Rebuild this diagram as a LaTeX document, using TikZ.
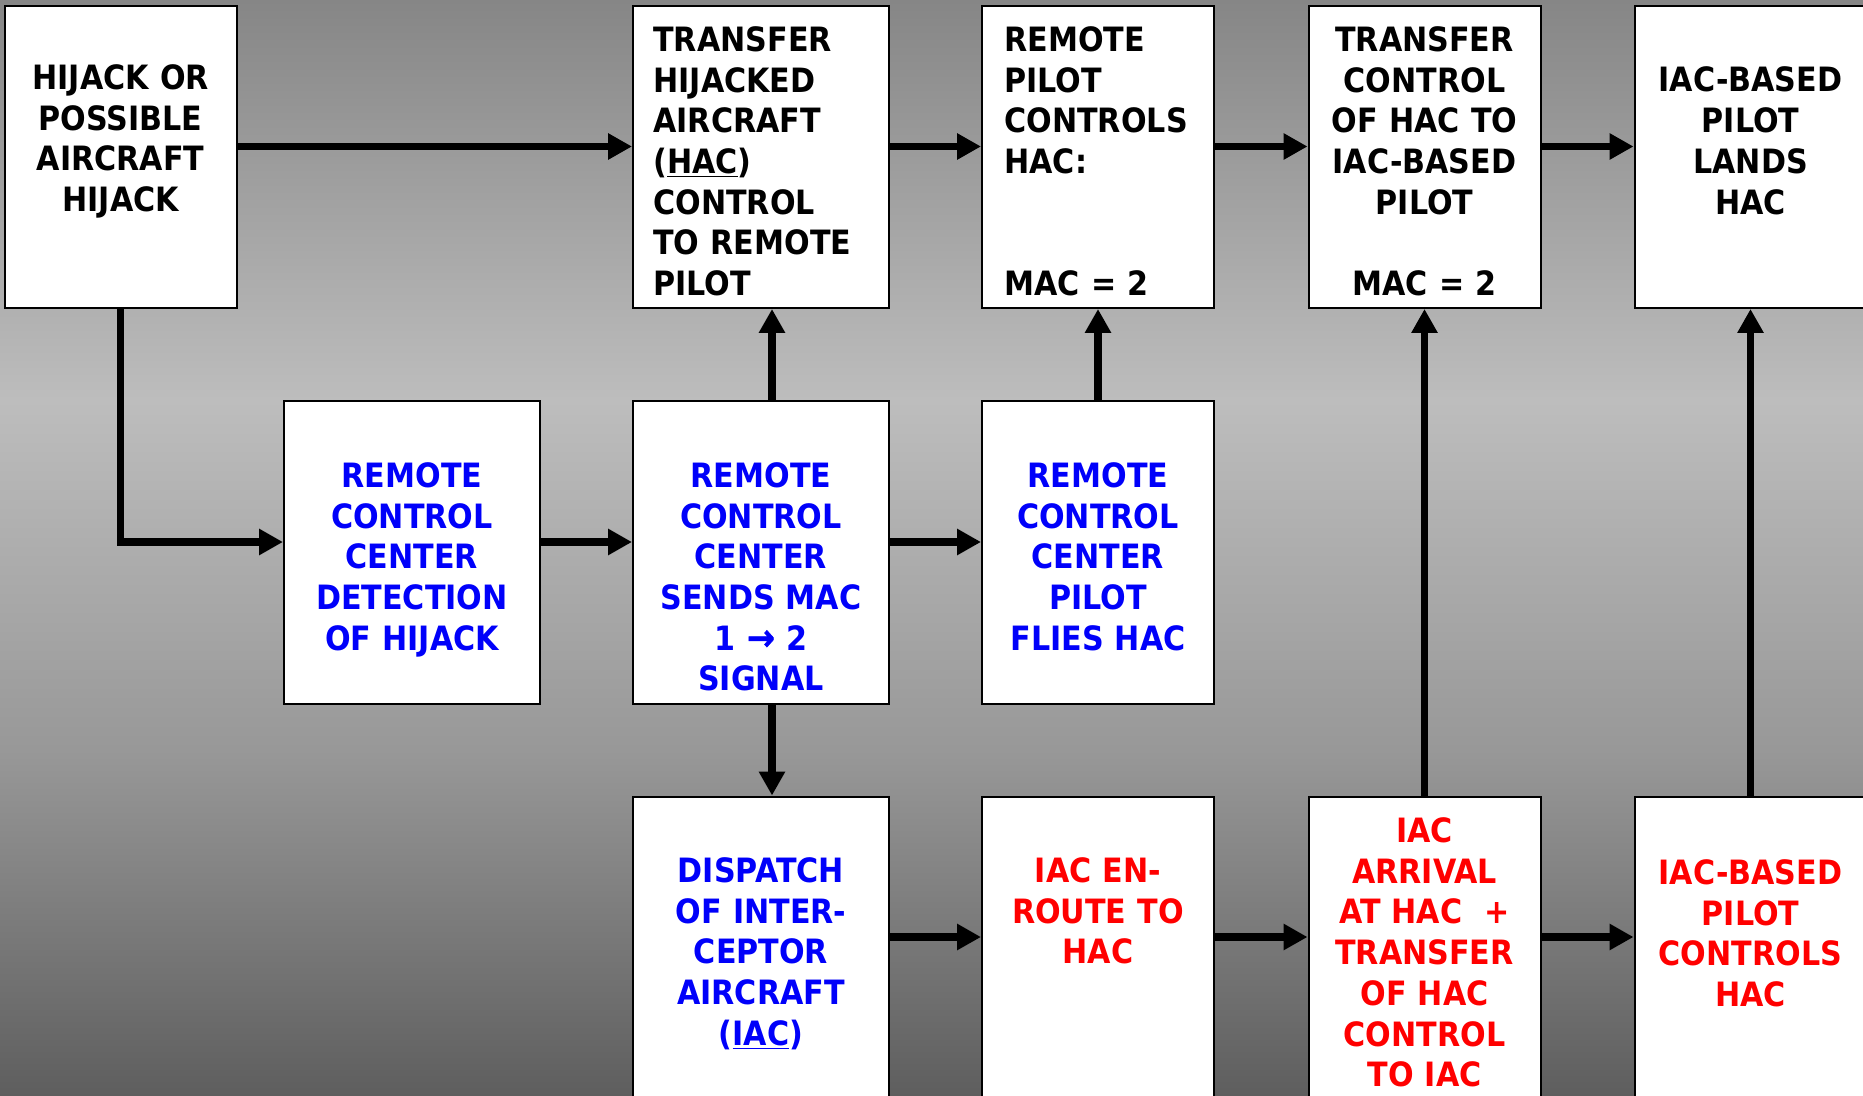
\documentclass[tikz,border=0pt]{standalone}
\usepackage{fontspec}
\setmainfont{DejaVu Sans}[FakeStretch=0.9]
\usetikzlibrary{arrows.meta}
\definecolor{bgA}{RGB}{134,134,134}
\definecolor{bgB}{RGB}{189,189,189}
\definecolor{bgC}{RGB}{152,152,152}
\definecolor{bgD}{RGB}{94,94,94}
\definecolor{tblue}{RGB}{0,0,250}
\definecolor{tred}{RGB}{255,0,0}
\pgfdeclareverticalshading{bgshade}{100bp}{color(0bp)=(bgD); color(25bp)=(bgD); color(40.8bp)=(bgC); color(56.75bp)=(bgB); color(75bp)=(bgA); color(100bp)=(bgA)}
\newcommand{\bigarr}{{\addfontfeature{FakeBold=1.5}\scalebox{1.1}{→}}}
\tikzset{
  wbox/.style={rectangle, draw=black, line width=1pt, fill=white, minimum width=#1, minimum height=151pt, inner sep=0pt},
  wbox/.default=116pt,
  arr/.style={line width=3.75pt, -{Triangle[length=12pt,width=12.5pt]}},
  txt/.style={font=\fontsize{16.75pt}{20.35pt}\selectfont\bfseries, inner sep=0pt, text width=125pt, align=center, anchor=base},
  txtl/.style={txt, align=left, anchor=base west},
  blu/.style={text=tblue},
  rd/.style={text=tred}
}
\begin{document}
\begin{tikzpicture}[x=0.5pt, y=-0.5pt]
\useasboundingbox (0,0) rectangle (1863,1096);
\clip (0,0) rectangle (1863,1096);
\shade[shading=bgshade] (0,0) rectangle (1863,1096);

% boxes
\node[wbox] (b1) at (120.6,157) {};
\node[wbox=128pt] (b2) at (761,157) {};
\node[wbox] (b3) at (1098,157) {};
\node[wbox] (b4) at (1424.5,157) {};
\node[wbox] (b5) at (1750.5,157) {};
\node[wbox=128pt] (b6) at (412,552.5) {};
\node[wbox=128pt] (b7) at (761,552.5) {};
\node[wbox] (b8) at (1098,552.5) {};
\node[wbox=128pt] (b9) at (761,947.5) {};
\node[wbox] (b10) at (1098,947.5) {};
\node[wbox] (b11) at (1424.5,947.5) {};
\node[wbox] (b12) at (1750.5,947.5) {};

% texts
\node[txt] (t1) at (120.6,89.5) {HIJACK OR\\POSSIBLE\\AIRCRAFT\\HIJACK};
\node[txtl] (t2) at (653,51.5) {TRANSFER\\HIJACKED\\AIRCRAFT\\(\underline{HAC})\\CONTROL\\TO REMOTE\\PILOT};
\node[txtl] (t3) at (1004,51.5) {REMOTE\\PILOT\\CONTROLS\\HAC:\\~\\~\\MAC = 2};
\node[txt] (t4) at (1424.5,51.5) {TRANSFER\\CONTROL\\OF HAC TO\\IAC-BASED\\PILOT\\~\\MAC = 2};
\node[txt] (t5) at (1750.5,92) {IAC-BASED\\PILOT\\LANDS\\HAC};
\node[txt,blu] (t6) at (412,487.5) {REMOTE\\CONTROL\\CENTER\\DETECTION\\OF HIJACK};
\node[txt,blu] (t7) at (761,487.5) {REMOTE\\CONTROL\\CENTER\\SENDS MAC\\1 \bigarr{} 2\\SIGNAL};
\node[txt,blu] (t8) at (1098,487.5) {REMOTE\\CONTROL\\CENTER\\PILOT\\FLIES HAC};
\node[txt,blu] (t9) at (761,882.5) {DISPATCH\\OF INTER-\\CEPTOR\\AIRCRAFT\\(\underline{IAC})};
\node[txt,rd] (t10) at (1098,882.5) {IAC EN-\\ROUTE TO\\HAC};
\node[txt,rd] (t11) at (1424.5,842.5) {IAC\\ARRIVAL\\AT HAC~~+\\TRANSFER\\OF HAC\\CONTROL\\TO IAC};
\node[txt,rd] (t12) at (1750.5,884.5) {IAC-BASED\\PILOT\\CONTROLS\\HAC};

% horizontal arrows
\draw[arr] ([yshift=5.25pt]b1.east) -- ([yshift=5.25pt]b2.west);
\draw[arr] ([yshift=5.25pt]b2.east) -- ([yshift=5.25pt]b3.west);
\draw[arr] ([yshift=5.25pt]b3.east) -- ([yshift=5.25pt]b4.west);
\draw[arr] ([yshift=5.25pt]b4.east) -- ([yshift=5.25pt]b5.west);
\draw[arr] ([yshift=5.25pt]b6.east) -- ([yshift=5.25pt]b7.west);
\draw[arr] ([yshift=5.25pt]b7.east) -- ([yshift=5.25pt]b8.west);
\draw[arr] ([yshift=5.25pt]b9.east) -- ([yshift=5.25pt]b10.west);
\draw[arr] ([yshift=5.25pt]b10.east) -- ([yshift=5.25pt]b11.west);
\draw[arr] ([yshift=5.25pt]b11.east) -- ([yshift=5.25pt]b12.west);
% elbow
\draw[arr] (b1.south) |- ([yshift=5.25pt]b6.west);
% vertical arrows
\draw[arr] ([xshift=5.5pt]b7.north) -- ([xshift=5.5pt]b2.south);
\draw[arr] ([xshift=5.5pt]b7.south) -- ([xshift=5.5pt]b9.north);
\draw[arr] (b8.north) -- (b3.south);
\draw[arr] (b11.north) -- (b4.south);
\draw[arr] (b12.north) -- (b5.south);
\end{tikzpicture}
\end{document}
